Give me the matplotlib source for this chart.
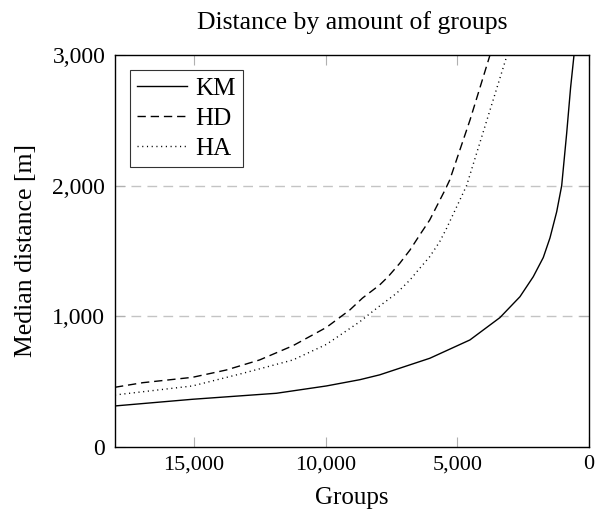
import matplotlib
matplotlib.use("Agg")
import matplotlib.pyplot as plt

plt.rcParams['font.family'] = ['Liberation Serif', 'DejaVu Serif']

# values (groups -> median distance in m)
km_groups = [18000, 15060, 11870, 9973, 8700, 7950, 6045, 4524, 3384, 2623, 2118,
             1737, 1483, 1228, 1038, 849, 700, 570, 450]
km_dist = [314, 365, 411, 467, 515, 552, 679, 819, 990, 1150, 1303,
           1450, 1600, 1800, 2000, 2400, 2750, 3000, 3300]

hd_groups = [18000, 16945, 15060, 13775, 12510, 11243, 9973, 9087, 8600, 7950, 7630,
             7190, 6800, 6430, 6050, 5470, 5290, 4520, 3760, 3400]
hd_dist = [457, 492, 533, 589, 666, 775, 915, 1048, 1140, 1240, 1303,
           1405, 1507, 1622, 1737, 1966, 2043, 2502, 3000, 3250]

ha_groups = [18000, 15060, 13143, 11243, 9973, 8700, 8450, 7950, 7310, 6800, 6430,
             6050, 5670, 5410, 4650, 3110, 2900]
ha_dist = [398, 467, 564, 666, 785, 959, 1000, 1079, 1176, 1278, 1367,
           1456, 1571, 1673, 2000, 3000, 3200]

xticks = [15000, 10000, 5000, 0]
yticks = [0, 1000, 2000, 3000]

fig = plt.figure(figsize=(6.09, 5.14), dpi=100)
ax = fig.add_axes([0.1888, 0.1304, 0.7784, 0.7626])

ax.plot(km_groups, km_dist, color="black", lw=1.0, label="KM")
ax.plot(hd_groups, hd_dist, color="black", lw=1.0, dashes=(6, 3.5), label="HD")
ax.plot(ha_groups, ha_dist, color="black", lw=1.0, dashes=(0.8, 2.6), label="HA")

ax.set_xlim(18000, 0)
ax.set_ylim(0, 3000)
ax.set_xticks(xticks)
ax.set_yticks(yticks)
ax.xaxis.set_major_formatter(matplotlib.ticker.StrMethodFormatter("{x:,.0f}"))
ax.yaxis.set_major_formatter(matplotlib.ticker.StrMethodFormatter("{x:,.0f}"))

for y in [1000, 2000]:
    ax.axhline(y, color="#c4c4c4", lw=1.0, dashes=(7, 4.5), zorder=0)

ax.tick_params(axis="both", direction="in", length=7, width=0.8, color="#b0b0b0",
               labelsize=16, top=True, right=True)
ax.tick_params(axis="x", pad=6)
ax.tick_params(axis="y", labelsize=17, pad=7)
for s in ax.spines.values():
    s.set_linewidth(1.0)

ax.set_title("Distance by amount of groups", fontsize=18.5, pad=19)
ax.set_xlabel("Groups", fontsize=18, labelpad=9)
ax.set_ylabel("Median distance [m]", fontsize=18.5, labelpad=11)

leg = ax.legend(loc="upper left", fontsize=18, frameon=True, fancybox=False,
                edgecolor="black", handlelength=2.0, handletextpad=0.3,
                borderpad=0.3, labelspacing=0.3, borderaxespad=0.6)
leg.get_frame().set_linewidth(0.8)

fig.savefig("out.png", dpi=100)
